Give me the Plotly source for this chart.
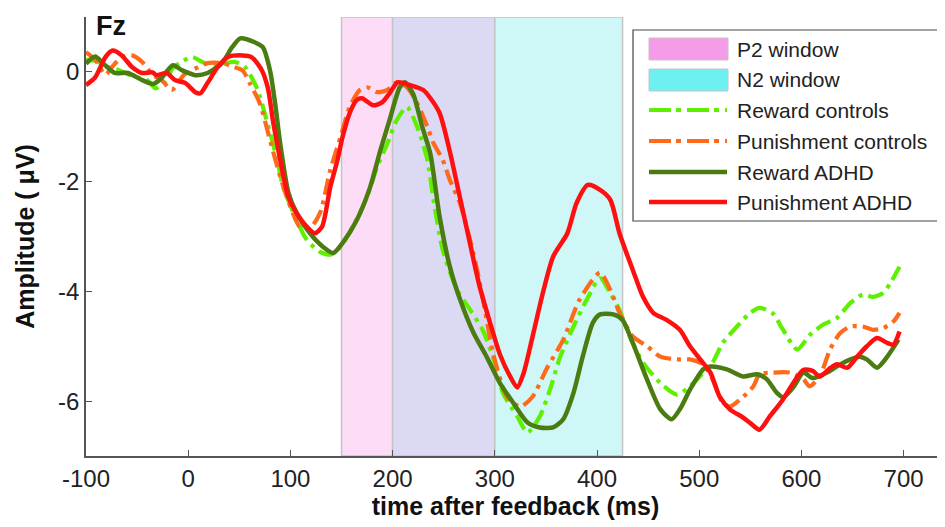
import plotly.graph_objects as go

# ---------------- data ----------------
rc_t = [-100, -90, -80, -70, -62, -50, -40, -32, -23, -15, -5, 4, 16, 26, 36, 46, 55, 62, 68, 77,
        87, 93, 103, 116, 129, 139, 149, 161, 175, 185, 195, 204, 214, 224, 234, 240, 249, 263, 276,
        288, 298, 308, 322, 332, 344, 354, 364, 377, 390, 403, 413, 422, 432, 445, 462, 478, 491,
        504, 513, 523, 537, 550, 559, 572, 582, 596, 608, 621, 635, 648, 660, 670, 680, 687, 696]
rc_v = [0.22, 0.2, 0.1, 0.05, -0.02, -0.1, -0.15, -0.3, -0.19, 0.07, 0.2, 0.27, 0.16, 0.12, 0.16,
        0.18, 0.1, -0.1, -0.33, -0.9, -1.6, -2.1, -2.57, -3.06, -3.28, -3.33, -3.19, -2.82, -2.28,
        -1.73, -1.3, -0.88, -0.64, -1.0, -1.6, -2.33, -3.24, -3.97, -4.34, -4.7, -5.19, -5.85, -6.28,
        -6.57, -6.28, -5.79, -5.19, -4.64, -4.15, -3.76, -4.03, -4.34, -4.82, -5.3, -5.67, -5.88,
        -5.73, -5.48, -5.3, -4.94, -4.64, -4.39, -4.3, -4.4, -4.7, -5.06, -4.8, -4.61, -4.48, -4.21,
        -4.06, -4.1, -4.03, -3.85, -3.55]

pc_t = [-100, -91, -81, -74, -65, -55, -45, -35, -26, -16, -4, 7, 19, 33, 43, 53, 60, 70, 80, 90,
        100, 109, 119, 129, 139, 149, 158, 168, 175, 185, 195, 204, 214, 224, 234, 240, 249, 256,
        266, 279, 288, 298, 312, 325, 337, 351, 367, 383, 403, 413, 422, 435, 449, 462, 478, 491,
        504, 513, 523, 530, 540, 553, 559, 572, 589, 602, 608, 618, 628, 638, 648, 660, 670, 680,
        690, 696]
pc_v = [0.36, 0.22, -0.05, 0.1, 0.27, 0.3, 0.18, -0.05, -0.15, -0.33, -0.05, 0.06, 0.16, 0.16, 0.1,
        0.03, -0.2, -0.57, -1.24, -1.91, -2.46, -2.82, -2.85, -2.57, -1.79, -1.19, -0.64, -0.33,
        -0.28, -0.37, -0.33, -0.19, -0.28, -0.57, -1.0, -1.3, -1.6, -1.97, -2.4, -3.3, -4.1, -5.1,
        -5.92, -6.1, -5.92, -5.4, -4.88, -4.15, -3.66, -3.97, -4.39, -4.82, -5.0, -5.19, -5.24,
        -5.24, -5.33, -5.6, -6.03, -6.1, -5.97, -5.73, -5.51, -5.48, -5.48, -5.6, -5.73, -5.55,
        -5.06, -4.76, -4.64, -4.64, -4.7, -4.67, -4.55, -4.39]

ra_t = [-100, -91, -83, -72, -59, -45, -34, -26, -15, -6, 7, 19, 33, 43, 51, 65, 73, 80, 85, 90,
        98, 106, 119, 132, 142, 151, 165, 178, 188, 197, 207, 212, 220, 229, 237, 246, 256, 266,
        279, 292, 305, 318, 332, 344, 357, 367, 377, 386, 396, 403, 416, 425, 435, 449, 462, 473,
        481, 491, 504, 511, 527, 543, 557, 566, 576, 582, 592, 602, 611, 625, 638, 648, 657, 664,
        674, 684, 695]
ra_v = [0.15, 0.28, 0.15, -0.02, -0.02, -0.15, -0.22, -0.11, 0.12, 0.03, -0.06, -0.02, 0.16, 0.45,
        0.61, 0.54, 0.45, 0.03, -0.57, -1.3, -2.2, -2.57, -2.94, -3.19, -3.3, -3.12, -2.7, -2.1,
        -1.43, -0.88, -0.28, -0.19, -0.4, -1.0, -1.5, -2.64, -3.55, -4.15, -4.75, -5.19, -5.67,
        -6.03, -6.39, -6.48, -6.48, -6.33, -5.85, -5.19, -4.57, -4.42, -4.42, -4.52, -4.94, -5.61,
        -6.15, -6.33, -6.15, -5.79, -5.42, -5.37, -5.42, -5.55, -5.51, -5.6, -5.85, -5.93, -5.75,
        -5.48, -5.58, -5.48, -5.33, -5.24, -5.19, -5.24, -5.39, -5.19, -4.88]

pa_t = [-100, -91, -81, -74, -65, -55, -45, -35, -31, -21, -13, -3, 7, 12, 19, 29, 39, 53, 62, 72,
        78, 83, 90, 98, 106, 116, 124, 131, 139, 146, 151, 158, 165, 170, 181, 190, 197, 205, 217,
        230, 237, 246, 256, 266, 276, 285, 295, 305, 315, 322, 328, 337, 347, 357, 371, 380, 391,
        403, 413, 422, 435, 445, 455, 468, 481, 491, 501, 511, 520, 530, 543, 550, 559, 569, 582,
        592, 602, 611, 618, 628, 635, 645, 654, 664, 674, 684, 690, 696]
pa_v = [-0.24, -0.1, 0.27, 0.39, 0.3, 0.09, -0.02, -0.01, -0.06, -0.02, -0.15, -0.2, -0.37, -0.39,
        -0.2, 0.09, 0.27, 0.3, 0.27, 0.03, -0.3, -0.9, -1.6, -2.28, -2.57, -2.82, -2.94, -2.82,
        -2.1, -1.61, -1.19, -0.75, -0.51, -0.48, -0.61, -0.55, -0.39, -0.19, -0.24, -0.33, -0.48,
        -0.75, -1.45, -2.3, -3.15, -3.9, -4.55, -5.15, -5.55, -5.75, -5.5, -4.82, -4.03, -3.37,
        -2.94, -2.39, -2.06, -2.15, -2.33, -2.94, -3.61, -4.1, -4.39, -4.52, -4.7, -5.0, -5.24,
        -5.48, -5.92, -6.15, -6.3, -6.4, -6.52, -6.28, -5.97, -5.67, -5.43, -5.45, -5.55, -5.4,
        -5.33, -5.39, -5.2, -5.0, -4.85, -4.94, -4.97, -4.73]

series_names = ["Reward controls", "Punishment controls", "Reward ADHD", "Punishment ADHD"]
window_names = ["P2 window", "N2 window"]
window_edges = [150, 200, 300, 425]          # P2: 150-300, N2: 200-425 (overlap 200-300)
x_ticks = [-100, 0, 100, 200, 300, 400, 500, 600, 700]
y_ticks = [-6, -4, -2, 0]
x_range = [-100, 740.5]
y_range = [-7, 1]

# ---------------- styles ----------------
colors = ["#5ef000", "#ff6a1a", "#4a7c12", "#ff1010"]
dashes = ["16px,6px,4px,6px", "16px,6px,4px,6px", "solid", "solid"]
widths = [4.2, 4.2, 4.5, 4.5]
win_fill = ["#fcdcf7", "#dcd9f5", "#d0f7f7"]
win_swatch = ["#f59ce9", "#6ef0f0"]
FONT = "Liberation Sans, Arial, sans-serif"

OFF = 8                       # page body margin of the browser
W, H = 945 - OFF, 527 - OFF
L, R, T, B = 86 - OFF, 0, 17 - OFF, 71

fig = go.Figure()
for t, v, name, c, d, w in zip([rc_t, pc_t, ra_t, pa_t], [rc_v, pc_v, ra_v, pa_v],
                               series_names, colors, dashes, widths):
    fig.add_trace(go.Scatter(x=t, y=v, name=name, mode="lines", showlegend=False,
                             line=dict(color=c, width=w, dash=d, shape="spline", smoothing=0.7)))

# shaded windows
for (x0, x1), fc in zip([(window_edges[0], window_edges[1]), (window_edges[1], window_edges[2]),
                         (window_edges[2], window_edges[3])], win_fill):
    fig.add_shape(type="rect", xref="x", yref="y", x0=x0, x1=x1, y0=y_range[0], y1=y_range[1],
                  fillcolor=fc, line=dict(color="#c4c4c4", width=1.5), layer="below")

# helpers: screen pixel -> paper
pw, ph = W - L - R, H - T - B
def px(xs): return (xs - OFF - L) / pw
def py(ys): return (H - B - (ys - OFF)) / ph

# manual legend
fig.add_shape(type="rect", xref="paper", yref="paper", x0=px(633), x1=px(941), y0=py(221), y1=py(30),
              fillcolor="white", line=dict(color="#444444", width=1.2), layer="above")
labels = window_names + series_names
rows = [49, 80, 110, 141, 172, 202]
for i, (lab, ry) in enumerate(zip(labels, rows)):
    if i < 2:
        fig.add_shape(type="rect", xref="paper", yref="paper", x0=px(649), x1=px(728),
                      y0=py(ry + 11), y1=py(ry - 11), fillcolor=win_swatch[i],
                      line=dict(color="#c4c4c4", width=1), layer="above")
    else:
        k = i - 2
        dd = "22px,5px,5px,6px" if dashes[k] != "solid" else "solid"
        fig.add_shape(type="line", xref="paper", yref="paper", x0=px(649), x1=px(727),
                      y0=py(ry), y1=py(ry), line=dict(color=colors[k], width=widths[k], dash=dd),
                      layer="above")
    fig.add_annotation(x=px(735), y=py(ry), xref="paper", yref="paper", text=lab, showarrow=False,
                       xanchor="left", yanchor="middle", font=dict(family=FONT, size=21, color="#222222"))

fig.add_annotation(x=px(94), y=py(OFF + 1), xref="paper", yref="paper", text="Fz", showarrow=False,
                   xanchor="left", yanchor="top", font=dict(family=FONT, size=27, color="#111111",
                                                            weight="bold"))

axis_common = dict(showline=True, linecolor="#555555", linewidth=1.5, ticks="inside", ticklen=6,
                   tickcolor="#555555", tickwidth=1.2, showgrid=False, zeroline=False, mirror=False,
                   tickfont=dict(family=FONT, size=24, color="#222222"))
fig.update_xaxes(range=x_range, tickvals=x_ticks, ticktext=[str(v) for v in x_ticks],
                 title=dict(text="time after feedback (ms)", standoff=4,
                            font=dict(family=FONT, size=25, color="#111111", weight="bold")),
                 **axis_common)
fig.update_yaxes(range=y_range, tickvals=y_ticks, ticktext=[str(v) for v in y_ticks],
                 title=dict(text="Amplitude ( μV)", standoff=16,
                            font=dict(family=FONT, size=25, color="#111111", weight="bold")),
                 **axis_common)
fig.update_layout(width=W, height=H, margin=dict(l=L, r=R, t=T, b=B, autoexpand=False),
                  plot_bgcolor="white", paper_bgcolor="white", showlegend=False)
fig.write_html("out.html")
